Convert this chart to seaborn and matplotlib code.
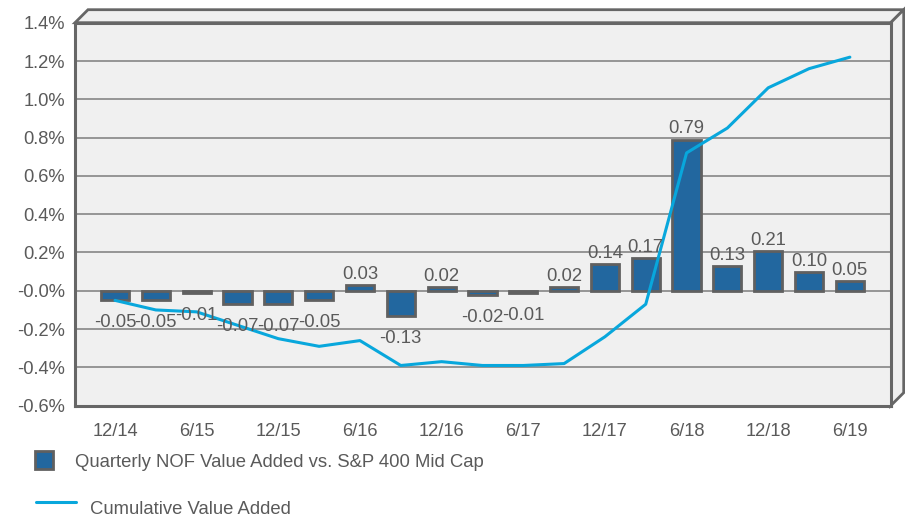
import numpy as np
import pandas as pd
import matplotlib
matplotlib.use("Agg")
import matplotlib.pyplot as plt
import seaborn as sns
from matplotlib.patches import Polygon, Rectangle
from matplotlib.lines import Line2D

# ---------------- data ----------------
quarters = ["12/14", "3/15", "6/15", "9/15", "12/15", "3/16", "6/16", "9/16", "12/16", "3/17",
            "6/17", "9/17", "12/17", "3/18", "6/18", "9/18", "12/18", "3/19", "6/19"]
quarterly = [-0.05, -0.05, -0.01, -0.07, -0.07, -0.05, 0.03, -0.13, 0.02, -0.02,
             -0.01, 0.02, 0.14, 0.17, 0.79, 0.13, 0.21, 0.10, 0.05]
cumulative = [-0.05, -0.10, -0.11, -0.18, -0.25, -0.29, -0.26, -0.39, -0.37, -0.39,
              -0.39, -0.38, -0.24, -0.07, 0.72, 0.85, 1.06, 1.16, 1.22]
x_tick_labels = ["12/14", "", "6/15", "", "12/15", "", "6/16", "", "12/16", "",
                 "6/17", "", "12/17", "", "6/18", "", "12/18", "", "6/19"]
y_ticks = [-0.6, -0.4, -0.2, 0.0, 0.2, 0.4, 0.6, 0.8, 1.0, 1.2, 1.4]
y_tick_labels = ["-0.6%", "-0.4%", "-0.2%", "-0.0%", "0.2%", "0.4%", "0.6%",
                 "0.8%", "1.0%", "1.2%", "1.4%"]
bar_series_name = "Quarterly NOF Value Added vs. S&P 400 Mid Cap"
line_series_name = "Cumulative Value Added"

# ---------------- style ----------------
BAR = "#22679F"
EDGE = "#606060"
LINE = "#08A7DC"
TXT = "#5A5A5A"
BG = "#F0F0F0"
FS_LBL = 13.3
FS_TICK = 13.2

sns.set_theme(style="white")
plt.rcParams["font.family"] = ["Liberation Sans", "DejaVu Sans"]

W, H = 905, 520
fig = plt.figure(figsize=(W / 100, H / 100), dpi=100)

def fx(x):
    return x / W

def fy(y):
    return 1 - y / H

L, R, T, B = 75, 890.7, 22.7, 405.7
ax = fig.add_axes([fx(L), fy(B), fx(R) - fx(L), fy(T) - fy(B)])
ax.set_facecolor(BG)

# 3D frame faces (top and right)
d = 13
top_face = Polygon([(fx(L), fy(T)), (fx(L + d), fy(T - d)), (fx(R + d), fy(T - d)), (fx(R), fy(T))],
                   closed=True, transform=fig.transFigure, facecolor=BG, edgecolor="#666666",
                   linewidth=2, zorder=0)
right_face = Polygon([(fx(R), fy(T)), (fx(R + d), fy(T - d)), (fx(R + d), fy(B - d)), (fx(R), fy(B))],
                     closed=True, transform=fig.transFigure, facecolor=BG, edgecolor="#666666",
                     linewidth=2, zorder=0)
fig.add_artist(top_face)
fig.add_artist(right_face)

df = pd.DataFrame({"quarter": quarters, "quarterly": quarterly, "cumulative": cumulative})

for yv in y_ticks[1:-1]:
    ax.axhline(yv, color="#8E8E8E", linewidth=1.3, zorder=1)

sns.barplot(data=df, x="quarter", y="quarterly", order=quarters, color=BAR, saturation=1,
            width=0.69, edgecolor=EDGE, linewidth=2, ax=ax, zorder=3)
sns.lineplot(x=np.arange(len(quarters)), y=df["cumulative"], color=LINE, linewidth=2.2,
             ax=ax, zorder=4)

for i, v in enumerate(quarterly):
    lbl = f"{v:.2f}"
    if v >= 0:
        ax.annotate(lbl, (i, v), xytext=(0, 1.5), textcoords="offset points",
                    ha="center", va="bottom", fontsize=FS_LBL, color=TXT, zorder=5)
    else:
        ax.annotate(lbl, (i, v), xytext=(0, -10), textcoords="offset points",
                    ha="center", va="top", fontsize=FS_LBL, color=TXT, zorder=5)

ax.set_xlim(-0.98, 19.0)
ax.set_ylim(-0.6, 1.4)
ax.set_yticks(y_ticks)
ax.set_yticklabels(y_tick_labels)
ax.set_xticks(range(len(quarters)))
ax.set_xticklabels(x_tick_labels)
ax.set_xlabel("")
ax.set_ylabel("")
ax.tick_params(axis="both", length=0, labelsize=FS_TICK, labelcolor=TXT)
ax.tick_params(axis="y", pad=7)
ax.tick_params(axis="x", pad=12.5)
for s in ax.spines.values():
    s.set_visible(True)
    s.set_color("#666666")
    s.set_linewidth(2.2)

# legend
fig.add_artist(Rectangle((fx(35), fy(469)), fx(18), fy(451) - fy(469), transform=fig.transFigure,
                         facecolor=BAR, edgecolor=EDGE, linewidth=2))
fig.text(fx(75), fy(462.5), bar_series_name, ha="left", va="center", fontsize=FS_LBL, color=TXT)
fig.add_artist(Line2D([fx(36), fx(76)], [fy(502.3), fy(502.3)], transform=fig.transFigure,
                      color=LINE, linewidth=2.2))
fig.text(fx(90), fy(510), line_series_name, ha="left", va="center", fontsize=FS_LBL, color=TXT)

fig.savefig("out.png", dpi=100)
